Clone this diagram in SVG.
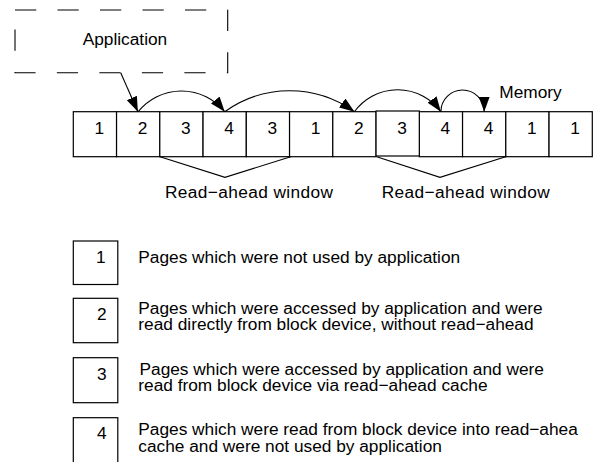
<svg xmlns="http://www.w3.org/2000/svg" width="601" height="462" viewBox="0 0 601 462">
<style>
  text { font-family: "Liberation Sans", Arial, sans-serif; font-size: 17.3px; fill: #000; }
  .d { text-anchor: middle; }
  .box { fill: #fff; stroke: #000; stroke-width: 1.2; }
  .ln { fill: none; stroke: #000; stroke-width: 1.1; }
</style>
<defs>
  <marker id="ah" markerUnits="userSpaceOnUse" markerWidth="16" markerHeight="12" refX="15" refY="5.5" orient="auto">
    <path d="M0,0 L15,5.5 L0,11 z" fill="#000"/>
  </marker>
</defs>
<rect width="601" height="462" fill="#fff"/>

<g id="application">
  <rect x="15" y="10" width="212.7" height="62.7" fill="none" stroke="#000" stroke-width="1.1" stroke-dasharray="21.25 21.25"/>
  <text x="82.7" y="45">Application</text>
</g>

<g id="memory">
  <text x="499.3" y="98.3">Memory</text>
  <g id="p1"><rect class="box" x="73.3" y="111.7" width="43.25" height="45"/><text class="d" x="99.2" y="134.3">1</text></g>
  <g id="p2"><rect class="box" x="116.55" y="111.7" width="43.25" height="45"/><text class="d" x="142.5" y="134.3">2</text></g>
  <g id="p3"><rect class="box" x="159.8" y="111.7" width="43.25" height="45"/><text class="d" x="185.7" y="134.3">3</text></g>
  <g id="p4"><rect class="box" x="203.05" y="111.7" width="43.25" height="45"/><text class="d" x="229" y="134.3">4</text></g>
  <g id="p5"><rect class="box" x="246.3" y="111.7" width="43.25" height="45"/><text class="d" x="272.2" y="134.3">3</text></g>
  <g id="p6"><rect class="box" x="289.55" y="111.7" width="43.25" height="45"/><text class="d" x="315.5" y="134.3">1</text></g>
  <g id="p7"><rect class="box" x="332.8" y="111.7" width="43.25" height="45"/><text class="d" x="358.7" y="134.3">2</text></g>
  <g id="p9"><rect class="box" x="419.3" y="111.7" width="43.25" height="45"/><text class="d" x="445.2" y="134.3">4</text></g>
  <g id="p10"><rect class="box" x="462.55" y="111.7" width="43.25" height="45"/><text class="d" x="488.5" y="134.3">4</text></g>
  <g id="p11"><rect class="box" x="505.8" y="111.7" width="43.25" height="45"/><text class="d" x="531.7" y="134.3">1</text></g>
  <g id="p12"><rect class="box" x="549.05" y="111.7" width="43.25" height="45"/><text class="d" x="575" y="134.3">1</text></g>
  <g id="p8"><rect class="box" x="376.05" y="111" width="43.25" height="45"/><text class="d" x="402" y="133.6">3</text></g>
</g>

<g id="connectors">
  <path class="ln" d="M120.7,72.7 L137.9,111.7" marker-end="url(#ah)"/>
  <path class="ln" d="M138.2,111.7 A55.5,55.5 0 0 1 224.7,111.7" marker-end="url(#ah)"/>
  <path class="ln" d="M224.7,111.7 A111,111 0 0 1 354.4,111.7" marker-end="url(#ah)"/>
  <path class="ln" d="M354.4,111.7 A53.5,53.5 0 0 1 440.9,111.7" marker-end="url(#ah)"/>
  <path class="ln" d="M440.9,111.7 A21.65,21.65 0 0 1 484.2,111.7" marker-end="url(#ah)"/>
</g>

<g id="window1">
  <polyline class="ln" points="160,156.7 225,177.3 290.7,156.7"/>
  <text x="165" y="198.3" textLength="168" lengthAdjust="spacing">Read−ahead window</text>
</g>
<g id="window2">
  <polyline class="ln" points="376.7,156.7 440,177.3 505.7,156.7"/>
  <text x="381.7" y="198.3" textLength="168" lengthAdjust="spacing">Read−ahead window</text>
</g>

<g id="legend1">
  <rect class="box" x="73.3" y="241" width="44.5" height="43.5"/>
  <text class="d" x="100.8" y="262.7">1</text>
  <text x="138.3" y="263.3">Pages which were not used by application</text>
</g>
<g id="legend2">
  <rect class="box" x="73.3" y="298.3" width="44.5" height="44.4"/>
  <text class="d" x="101.7" y="320">2</text>
  <text x="138.3" y="313.8">Pages which were accessed by application and were</text>
  <text x="138.3" y="330.3">read directly from block device, without read−ahead</text>
</g>
<g id="legend3">
  <rect class="box" x="73.3" y="357.7" width="44.5" height="45"/>
  <text class="d" x="101.7" y="380">3</text>
  <text x="139.5" y="374.8">Pages which were accessed by application and were</text>
  <text x="138.3" y="391.3">read from block device via read−ahead cache</text>
</g>
<g id="legend4">
  <rect class="box" x="73.3" y="417.7" width="44.5" height="50"/>
  <text class="d" x="101.7" y="439.3">4</text>
  <text x="138.3" y="435">Pages which were read from block device into read−ahea</text>
  <text x="138.3" y="451.5">cache and were not used by application</text>
</g>
</svg>
